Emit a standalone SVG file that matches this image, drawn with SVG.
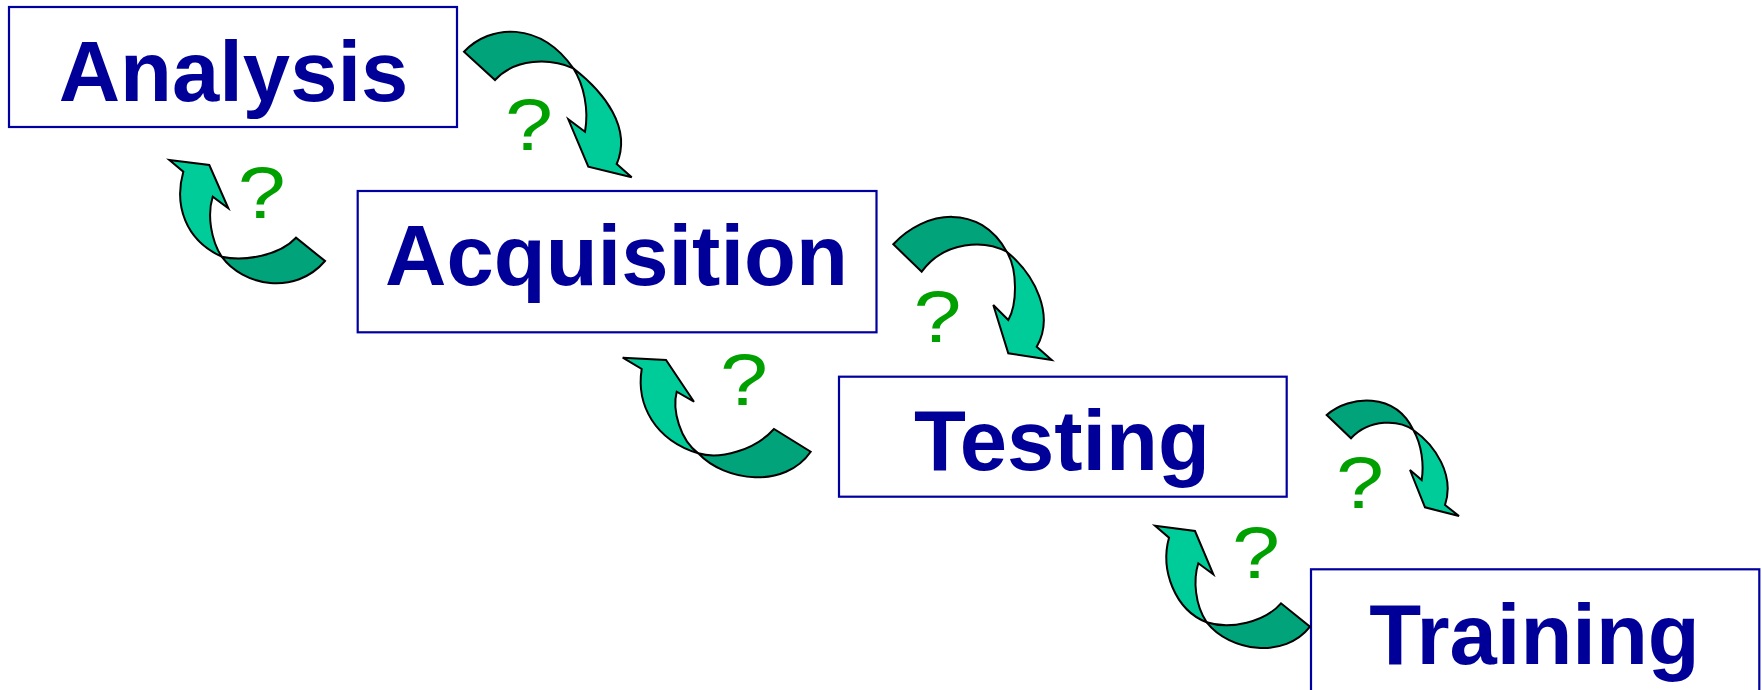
<svg xmlns="http://www.w3.org/2000/svg" width="1762" height="690" viewBox="0 0 1762 690">
<style>
.box{fill:#fff;stroke:#0000A0;stroke-width:2.2}
.lbl{font-family:"Liberation Sans",Arial,sans-serif;font-weight:bold;font-size:85px;fill:#000099;text-anchor:middle}
.q{font-family:"Liberation Sans",Arial,sans-serif;font-size:73px;fill:#00A000;text-anchor:middle}
.dk{fill:#00A37A;stroke:#000;stroke-width:2;stroke-linejoin:miter}
.lt{fill:#00CC99;stroke:#000;stroke-width:2;stroke-linejoin:miter}
</style>
<rect width="1762" height="690" fill="#fff"/>
<g id="analysis">
<rect class="box" x="9" y="7" width="448" height="120"/>
<text class="lbl" x="233.5" y="100.7">Analysis</text>
</g>
<g id="acquisition">
<rect class="box" x="357.7" y="191" width="518.8" height="141.3"/>
<text class="lbl" x="616.5" y="285.3">Acquisition</text>
</g>
<g id="testing">
<rect class="box" x="839" y="376.7" width="447.7" height="120"/>
<text class="lbl" x="1062" y="470.3">Testing</text>
</g>
<g id="training">
<rect class="box" x="1311" y="569.3" width="448.3" height="140"/>
<text class="lbl" x="1534.5" y="664.3">Training</text>
</g>
<g id="connectors">
<g id="f1">
<path class="dk" d="M464,51.7 C490,24 540,21 573.3,68.3 C550,58 515,58 495,80 Z"/>
<path class="lt" d="M573.3,68.3 C605,93 632,128 616.7,164 L631.7,177.3 L588.3,166.7 L568.3,119.3 L585,131.7 C589,110 584,85 573.3,68.3 Z"/>
</g>
<g id="f2">
<path class="dk" d="M893.3,244.3 C925,210 980,203 1006.7,251.7 C985,240 945,240 921.7,271.7 Z"/>
<path class="lt" d="M1006.7,251.7 C1035,275 1055,315 1036.7,346.7 L1051.7,360 L1008.3,353.3 L993.3,305 L1008.3,320 C1017,305 1018,270 1006.7,251.7 Z"/>
</g>
<g id="f3">
<path class="dk" d="M1326.7,415 C1350,395 1395,392 1413.3,430 C1400,420 1370,418 1351,438.3 Z"/>
<path class="lt" d="M1413.3,430 C1435,445 1455,475 1445,505 L1459,516 L1425,507.3 L1410,470 L1421.7,480 C1424,465 1422,445 1413.3,430 Z"/>
</g>
<g id="b1">
<path class="dk" d="M221.7,256.7 C243,286 295,296 325,261 L296,237.7 C280,255 245,262 221.7,256.7 Z"/>
<path class="lt" d="M169.3,160 L209.3,165 L228.3,208.3 L212.7,196.7 C207,215 211,240 221.7,256.7 C185,240 174,205 183.3,171.7 Z"/>
</g>
<g id="b2">
<path class="dk" d="M698.3,453.3 C725,482 785,489 810.7,451.7 L774,429 C755,450 720,460 698.3,453.3 Z"/>
<path class="lt" d="M622.7,357.7 L666,360 L694,401.7 L676.7,391.7 C672,410 680,440 698.3,453.3 C655,440 636,405 641.7,369 Z"/>
</g>
<g id="b3">
<path class="dk" d="M1206.7,622.3 C1230,652 1285,659 1310,626.7 L1281,603.3 C1265,622 1230,630 1206.7,622.3 Z"/>
<path class="lt" d="M1155,525.7 L1195,531 L1213.3,574.3 L1198.3,563.3 C1193,580 1195,605 1206.7,622.3 C1175,610 1160,570 1169,537.7 Z"/>
</g>
</g>
<g id="questions">
<text class="q" transform="translate(529,150) scale(1.18,1)">?</text>
<text class="q" transform="translate(261.7,218.3) scale(1.18,1)">?</text>
<text class="q" transform="translate(937.5,341.7) scale(1.18,1)">?</text>
<text class="q" transform="translate(744,405) scale(1.18,1)">?</text>
<text class="q" transform="translate(1360,508.3) scale(1.18,1)">?</text>
<text class="q" transform="translate(1256,578.3) scale(1.18,1)">?</text>
</g>
</svg>
